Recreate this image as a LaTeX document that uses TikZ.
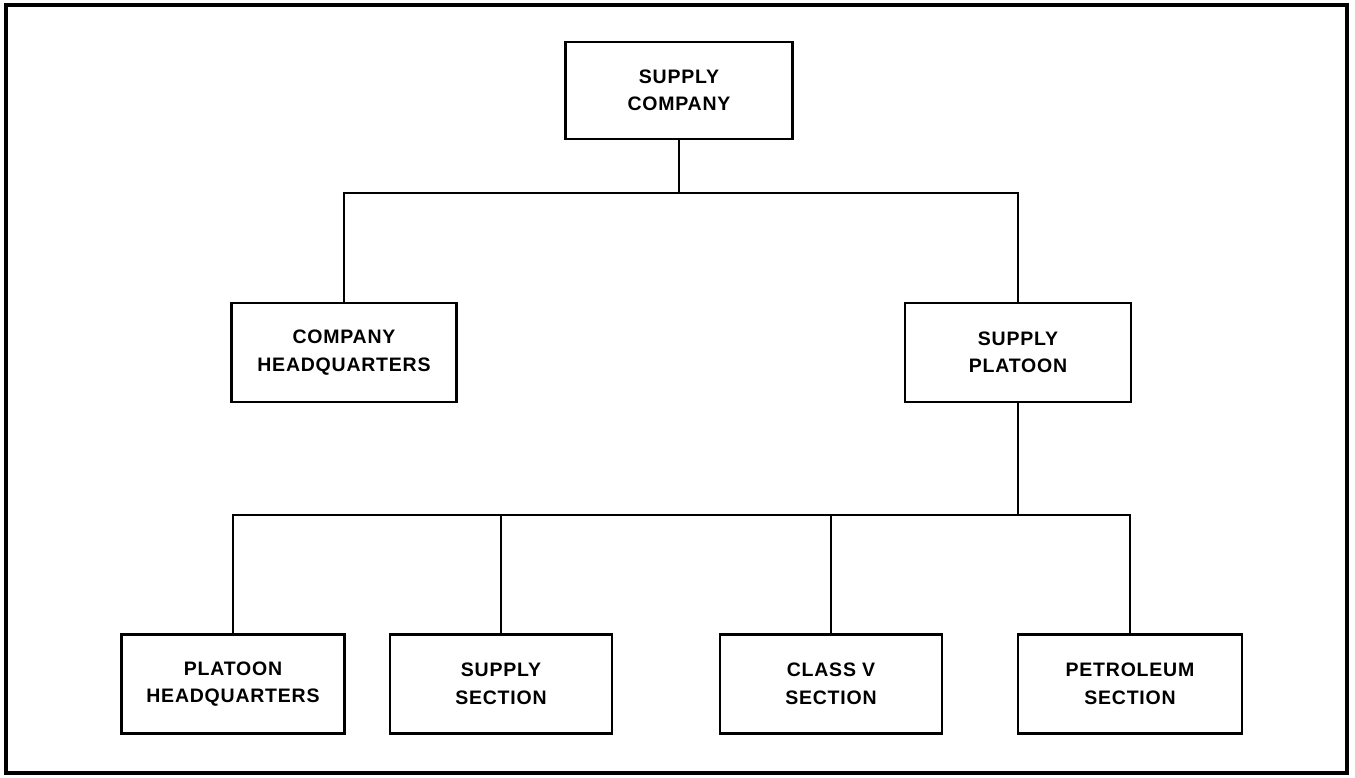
\documentclass[tikz,border=0pt]{standalone}
\usepackage{fontspec}
\newfontfamily\chartfont{Liberation Sans}[LetterSpace=4]
\begin{document}
\begin{tikzpicture}[x=1pt,y=-1pt,
  unitbox/.style={draw=black, line width=2.8pt, fill=white, align=center,
    inner sep=0pt, minimum height=99pt,
    font=\chartfont\bfseries\fontsize{19.5}{27.5}\selectfont},
  wire/.style={draw=black, line width=2.6pt, line join=miter},
  frame/.style={draw=black, line width=4pt}]
\useasboundingbox (0,0) rectangle (1355,778);
\draw[frame] (6,5) rectangle (1347,773);

% top level
\node[unitbox, minimum width=227pt, minimum height=97pt] (sc) at (679,90.5) {SUPPLY\\COMPANY};

% second level
\node[unitbox, minimum width=225pt] (hq) at (344,352.5) {COMPANY\\HEADQUARTERS};
\node[unitbox, minimum width=226pt] (pl) at (1018,352.5) {SUPPLY\\PLATOON};

% third level
\node[unitbox, minimum width=223pt] (b1) at (233,684) {PLATOON\\HEADQUARTERS};
\node[unitbox, minimum width=222pt] (b2) at (501,684) {SUPPLY\\SECTION};
\node[unitbox, minimum width=222pt] (b3) at (831,684) {CLASS V\\SECTION};
\node[unitbox, minimum width=224pt] (b4) at (1130,684) {PETROLEUM\\SECTION};

% bus lines
\coordinate (bus1) at (679,193);
\coordinate (bus2) at (1018,515);

\draw[wire] (sc.south) -- (bus1);
\draw[wire] (hq.north) -- (hq.north |- bus1) -- (pl.north |- bus1) -- (pl.north);

\draw[wire] (pl.south) -- (bus2);
\draw[wire] (b1.north) -- (b1.north |- bus2) -- (b4.north |- bus2) -- (b4.north);
\draw[wire] (b2.north) -- (b2.north |- bus2);
\draw[wire] (b3.north) -- (b3.north |- bus2);
\end{tikzpicture}
\end{document}
